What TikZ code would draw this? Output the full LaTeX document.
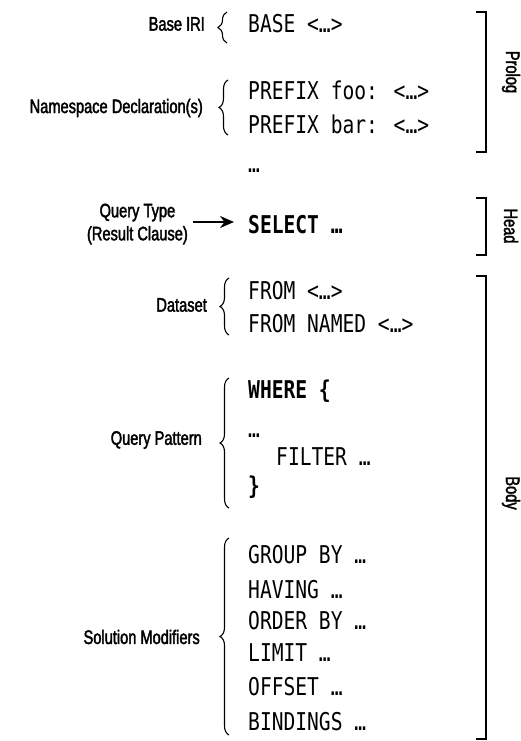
\documentclass[tikz,border=0pt]{standalone}
\usepackage{fontspec}
\setmainfont{Liberation Sans}[FakeStretch=0.75,FakeBold=2]
\newfontfamily\codefnt{DejaVu Sans Mono}[FakeStretch=0.8]
\usetikzlibrary{decorations.pathreplacing,arrows.meta}
\begin{document}
\begin{tikzpicture}[x=1pt,y=-1pt,
  lbl/.style={anchor=east,inner sep=0pt,align=center,font=\fontsize{19.5}{23}\selectfont},
  side/.style={inner sep=0pt,rotate=-90,font=\fontsize{19.5}{23}\selectfont},
  code/.style={anchor=base west,inner sep=0pt,font=\codefnt\fontsize{24.5}{28}\selectfont},
  codeb/.style={code,font=\codefnt\bfseries\fontsize{24.5}{28}\selectfont},
  brk/.style={line width=2pt},
  brc/.style={decorate,decoration={brace,amplitude=9pt},line width=1.1pt}]
\path[use as bounding box] (0,0) rectangle (520,741);
% code lines
\node[code] (base) at (248,33) {BASE <…>};
\node[code] (pfoo) at (248,100) {PREFIX foo: <…>};
\node[code] (pbar) at (248,134) {PREFIX bar: <…>};
\node[code] (dots1) at (248,172) {…};
\node[codeb] (sel) at (248,233) {SELECT …};
\node[code] (from) at (248,299) {FROM <…>};
\node[code] (fromn) at (248,332) {FROM NAMED <…>};
\node[codeb] (where) at (248,398) {WHERE \{};
\node[code] (dots2) at (248,437) {…};
\node[code] (filter) at (276,465) {FILTER …};
\node[codeb] (close) at (248,494) {\}};
\node[code] (group) at (248,563) {GROUP BY …};
\node[code] (having) at (248,598) {HAVING …};
\node[code] (order) at (248,629) {ORDER BY …};
\node[code] (limit) at (248,661) {LIMIT …};
\node[code] (offset) at (248,695) {OFFSET …};
\node[code] (bind) at (248,730) {BINDINGS …};
% labels
\node[lbl] (lbase) at (205,24) {Base IRI};
\node[lbl] (lns) at (203,108) {Namespace Declaration(s)};
\node[lbl] (lqt) at (188,224) {Query Type\\(Result Clause)};
\node[lbl] (lds) at (207,305) {Dataset};
\node[lbl] (lqp) at (202,440) {Query Pattern};
\node[lbl] (lsm) at (200,637) {Solution Modifiers};
% braces
\coordinate (b1a) at (227,43); \coordinate (b1b) at (227,12);
\coordinate (b2a) at (228,135); \coordinate (b2b) at (228,80);
\coordinate (b3a) at (229,335); \coordinate (b3b) at (229,278);
\coordinate (b4a) at (229,508); \coordinate (b4b) at (229,378);
\coordinate (b5a) at (229,735); \coordinate (b5b) at (229,538);
\draw[brc] (b1a) -- (b1b);
\draw[brc] (b2a) -- (b2b);
\draw[brc] (b3a) -- (b3b);
\draw[brc] (b4a) -- (b4b);
\draw[brc] (b5a) -- (b5b);
% arrow
\coordinate (astart) at (193,222);
\coordinate (aend) at (234,222);
\draw[line width=2pt,-{Stealth[length=14pt,width=12pt]}] (astart) -- (aend);
% brackets
\draw[brk] (476,12) -- (486,12) -- (486,152) -- (476,152);
\draw[brk] (476,198) -- (486,198) -- (486,255) -- (476,255);
\draw[brk] (476,276) -- (486,276) -- (486,739) -- (476,739);
\node[side] (prolog) at (511,72) {Prolog};
\node[side] (head) at (511,226) {Head};
\node[side] (body) at (511,493) {Body};
\end{tikzpicture}
\end{document}
